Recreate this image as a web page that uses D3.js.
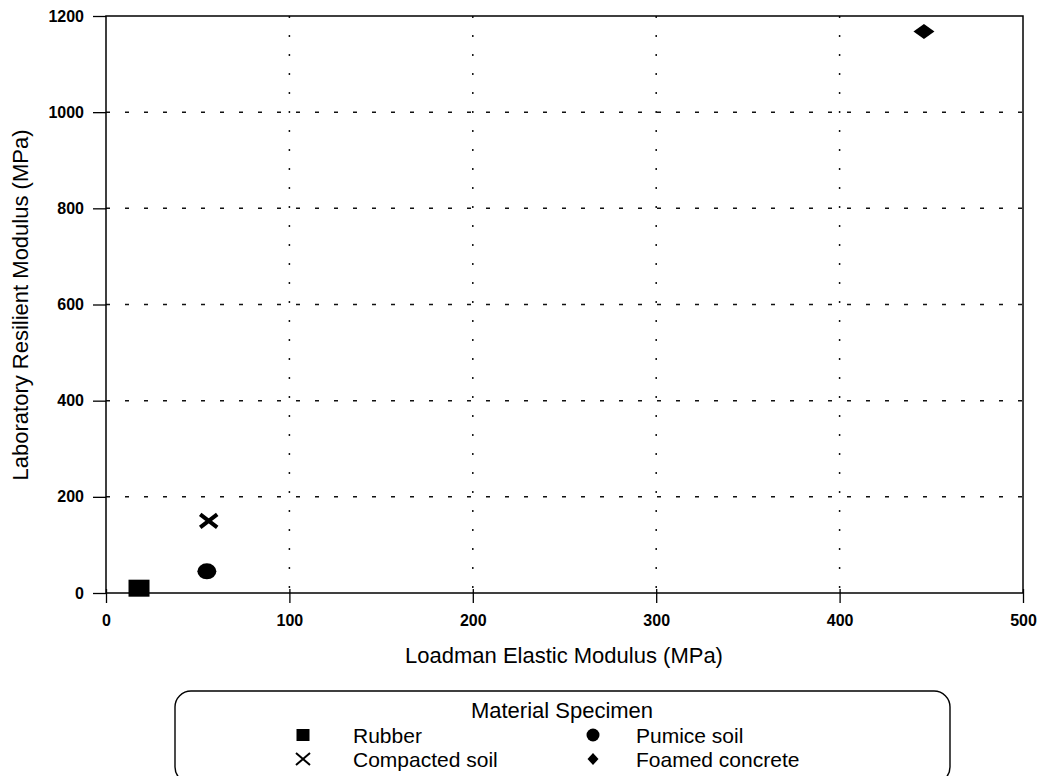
<!DOCTYPE html>
<html>
<head>
<meta charset="utf-8">
<script src="https://cdn.jsdelivr.net/npm/d3@7"></script>
<style>
  html, body { margin: 0; padding: 0; background: #fff; }
  svg { display: block; font-family: "Liberation Sans", Arial, Helvetica, sans-serif; }
</style>
</head>
<body>
<svg id="chart" width="1044" height="776"></svg>
<script>
// Material specimens: Loadman elastic modulus vs laboratory resilient modulus (MPa)
const specimens = ["Rubber", "Compacted soil", "Pumice soil", "Foamed concrete"];
const loadmanModulus = [18, 56, 55, 446];
const resilientModulus = [10, 150, 45, 1168];
const markerShapes = ["square", "cross", "circle", "diamond"];

const xTicks = [0, 100, 200, 300, 400, 500];
const yTicks = [0, 200, 400, 600, 800, 1000, 1200];

const legendOrder = ["Rubber", "Pumice soil", "Compacted soil", "Foamed concrete"];

const svg = d3.select("#chart");
const plot = { left: 106, right: 1023, top: 16, bottom: 593 };

const x = d3.scaleLinear().domain([0, 500]).range([plot.left, plot.right]);
const y = d3.scaleLinear().domain([0, 1200]).range([plot.bottom, plot.top]);

// Grid: dashed horizontals, dotted verticals
svg.append("g")
  .selectAll("line")
  .data(yTicks.filter(d => d > 0 && d < 1200))
  .join("line")
  .attr("x1", plot.left).attr("x2", plot.right)
  .attr("y1", d => y(d)).attr("y2", d => y(d))
  .attr("stroke", "#111").attr("stroke-width", 1.5)
  .attr("stroke-dasharray", "4 15");

svg.append("g")
  .selectAll("line")
  .data(xTicks.filter(d => d > 0 && d < 500))
  .join("line")
  .attr("x1", d => x(d)).attr("x2", d => x(d))
  .attr("y1", plot.top).attr("y2", plot.bottom)
  .attr("stroke", "#111").attr("stroke-width", 1.5)
  .attr("stroke-dasharray", "2 17");

// Frame
svg.append("rect")
  .attr("x", plot.left).attr("y", plot.top)
  .attr("width", plot.right - plot.left).attr("height", plot.bottom - plot.top)
  .attr("fill", "none").attr("stroke", "#000").attr("stroke-width", 1.5);

const fmt = d3.format("d");

// Axes
const xAxis = d3.axisBottom(x).tickValues(xTicks).tickFormat(fmt).tickSizeInner(10).tickSizeOuter(0).tickPadding(12);
const gx = svg.append("g").attr("transform", `translate(0,${plot.bottom})`).call(xAxis);
gx.select(".domain").remove();
gx.selectAll(".tick line").attr("y1", -4).attr("y2", 10).attr("stroke-width", 1.3);
gx.selectAll(".tick text")
  .attr("font-size", 16).attr("font-weight", "bold")
  .attr("font-family", "'Liberation Sans', Arial, sans-serif").attr("fill", "#000");

const yAxis = d3.axisLeft(y).tickValues(yTicks).tickFormat(fmt).tickSizeInner(13).tickSizeOuter(0).tickPadding(9);
const gy = svg.append("g").attr("transform", `translate(${plot.left},0)`).call(yAxis);
gy.select(".domain").remove();
gy.selectAll(".tick line").attr("stroke-width", 1.3);
gy.selectAll(".tick text")
  .attr("font-size", 16).attr("font-weight", "bold")
  .attr("font-family", "'Liberation Sans', Arial, sans-serif").attr("fill", "#000");

// Axis titles
svg.append("text")
  .attr("x", 564).attr("y", 663)
  .attr("text-anchor", "middle")
  .attr("font-size", 22).attr("fill", "#000")
  .text("Loadman Elastic Modulus (MPa)");

svg.append("text")
  .attr("transform", "translate(28,305) rotate(-90)")
  .attr("text-anchor", "middle")
  .attr("font-size", 22).attr("fill", "#000")
  .text("Laboratory Resilient Modulus (MPa)");

// Marker drawing
function drawMarker(g, shape, w, h, sw) {
  if (shape === "square") {
    g.append("rect").attr("x", -w / 2).attr("y", -h / 2).attr("width", w).attr("height", h).attr("fill", "#000");
  } else if (shape === "circle") {
    g.append("ellipse").attr("rx", w / 2).attr("ry", h / 2).attr("fill", "#000");
  } else if (shape === "diamond") {
    g.append("path").attr("d", `M0,${-h / 2}L${w / 2},0L0,${h / 2}L${-w / 2},0Z`).attr("fill", "#000");
  } else if (shape === "cross") {
    g.append("path")
      .attr("d", `M${-w / 2},${-h / 2}L${w / 2},${h / 2}M${w / 2},${-h / 2}L${-w / 2},${h / 2}`)
      .attr("stroke", "#000").attr("stroke-width", sw).attr("fill", "none");
  }
}

const pointSizes = { square: [21, 17], circle: [19, 16], diamond: [21, 15], cross: [17, 13] };

specimens.forEach((name, i) => {
  const g = svg.append("g").attr("transform", `translate(${x(loadmanModulus[i])},${y(resilientModulus[i])})`);
  const [w, h] = pointSizes[markerShapes[i]];
  drawMarker(g, markerShapes[i], w, h, 4);
});

// Legend
const legend = svg.append("g");
legend.append("rect")
  .attr("x", 175).attr("y", 691).attr("width", 775).attr("height", 92)
  .attr("rx", 16).attr("ry", 16)
  .attr("fill", "none").attr("stroke", "#000").attr("stroke-width", 1.4);

legend.append("text")
  .attr("x", 562).attr("y", 718)
  .attr("text-anchor", "middle").attr("font-size", 22).attr("fill", "#000")
  .text("Material Specimen");

const legendSizes = { square: [13, 12], circle: [13, 13], diamond: [11, 12], cross: [14, 12] };
legendOrder.forEach((name, k) => {
  const col = k % 2, row = Math.floor(k / 2);
  const mx = col === 0 ? 303 : 593;
  const tx = col === 0 ? 353 : 636;
  const ty = row === 0 ? 743 : 767;
  const shape = markerShapes[specimens.indexOf(name)];
  const [w, h] = legendSizes[shape];
  const g = legend.append("g").attr("transform", `translate(${mx},${ty - 8})`);
  drawMarker(g, shape, w, h, 2);
  legend.append("text")
    .attr("x", tx).attr("y", ty)
    .attr("font-size", 21).attr("fill", "#000")
    .text(name);
});
</script>
</body>
</html>
